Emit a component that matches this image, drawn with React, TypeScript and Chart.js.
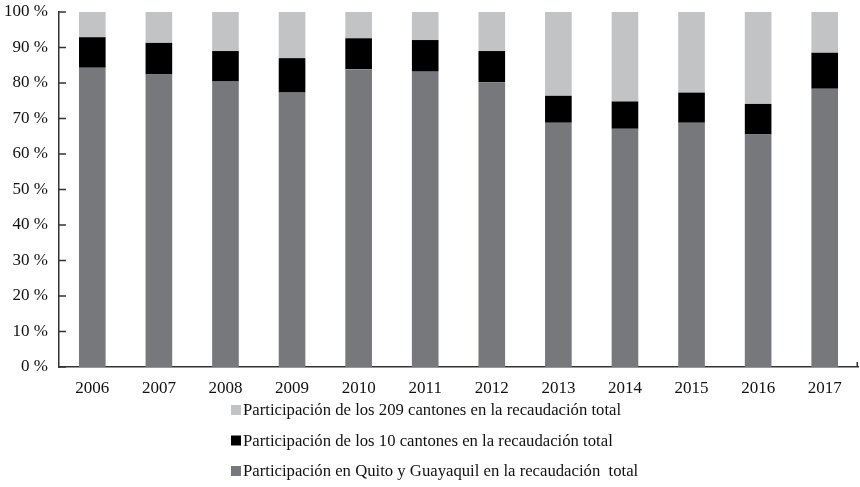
import React, { useEffect, useRef } from "react";
import { Chart, registerables } from "chart.js";

Chart.register(...registerables);

const years = ["2006", "2007", "2008", "2009", "2010", "2011", "2012", "2013", "2014", "2015", "2016", "2017"];
const quitoGuayaquil = [84.3, 82.4, 80.4, 77.3, 83.9, 83.2, 80.2, 68.8, 67.1, 68.8, 65.5, 78.4];
const diezCantones = [8.6, 8.9, 8.6, 9.7, 8.7, 8.9, 8.8, 7.6, 7.7, 8.5, 8.6, 10.1];
const cantones209 = [7.1, 8.7, 11.0, 13.0, 7.4, 7.9, 11.0, 23.6, 25.2, 22.7, 25.9, 11.5];

const labelQG = "Participación en Quito y Guayaquil en la recaudación  total";
const label10 = "Participación de los 10 cantones en la recaudación total";
const label209 = "Participación de los 209 cantones en la recaudación total";

const FONT = "'Liberation Serif', 'Times New Roman', serif";

const decorPlugin = {
  id: "decor",
  afterDraw(chart: any) {
    const ctx = chart.ctx;
    const y = chart.scales.y;
    const area = chart.chartArea;
    ctx.save();
    ctx.strokeStyle = "#333";
    ctx.lineWidth = 1.5;
    y.ticks.forEach((t: any) => {
      const py = y.getPixelForValue(t.value);
      ctx.beginPath();
      ctx.moveTo(area.left, py);
      ctx.lineTo(area.left + 7, py);
      ctx.stroke();
    });
    ctx.beginPath();
    ctx.moveTo(area.right - 0.75, area.bottom);
    ctx.lineTo(area.right - 0.75, area.bottom - 5);
    ctx.stroke();

    // legend (reversed order, one per row)
    const ds = chart.data.datasets.slice().reverse();
    ctx.font = "16.7px " + FONT;
    ctx.textBaseline = "middle";
    ctx.textAlign = "left";
    const startY = 410;
    const step = 30.5;
    ds.forEach((d: any, i: number) => {
      const cy = startY + i * step;
      ctx.fillStyle = d.backgroundColor;
      ctx.fillRect(231, cy - 5, 10, 10);
      ctx.fillStyle = "#111";
      ctx.fillText(d.label, 243, cy + 1);
    });
    ctx.restore();
  },
};

export default function App() {
  const ref = useRef<HTMLCanvasElement | null>(null);
  useEffect(() => {
    if (!ref.current) return;
    const chart = new Chart(ref.current, {
      type: "bar",
      data: {
        labels: years,
        datasets: [
          { label: labelQG, data: quitoGuayaquil, backgroundColor: "#77787b" },
          { label: label10, data: diezCantones, backgroundColor: "#000000" },
          { label: label209, data: cantones209, backgroundColor: "#c2c3c5" },
        ],
      },
      options: {
        animation: false,
        responsive: false,
        maintainAspectRatio: false,
        layout: { padding: { top: 12, right: 2, bottom: 90, left: 0 } },
        datasets: { bar: { barPercentage: 0.4, categoryPercentage: 1.0 } },
        plugins: { legend: { display: false }, tooltip: { enabled: false } },
        scales: {
          x: {
            stacked: true,
            grid: { display: false },
            border: { display: true, color: "#333", width: 1.5 },
            ticks: { color: "#111", font: { family: FONT, size: 17 }, padding: 3, maxRotation: 0 },
            afterFit: (s: any) => { s.height = 30; s.paddingLeft = 0; s.paddingRight = 0; },
          },
          y: {
            stacked: true,
            min: 0,
            max: 100,
            grid: { display: false },
            border: { display: true, color: "#333", width: 1.5 },
            ticks: {
              stepSize: 10,
              color: "#111",
              font: { family: FONT, size: 17 },
              padding: 3,
              callback: (v: any) => v + " %",
            },
            afterFit: (s: any) => { s.width = 59; s.paddingTop = 0; s.paddingBottom = 0; },
          },
        },
      },
      plugins: [decorPlugin],
    });
    return () => chart.destroy();
  }, []);
  return (
    <div style={{ position: "absolute", left: 0, top: 0, width: 860, height: 487, background: "#fff" }}>
      <canvas ref={ref} width={860} height={487} style={{ display: "block" }} />
    </div>
  );
}
